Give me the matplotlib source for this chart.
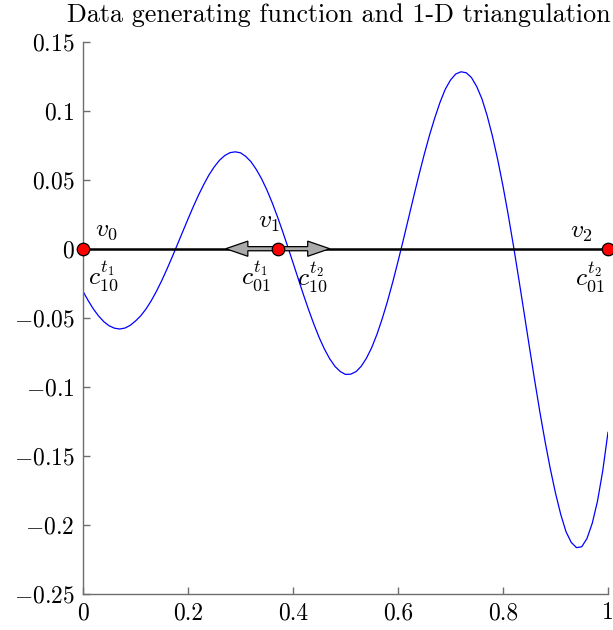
import matplotlib
matplotlib.use("Agg")
import matplotlib.pyplot as plt
from matplotlib.patches import FancyArrow

plt.rcParams["mathtext.fontset"] = "cm"
plt.rcParams["font.family"] = "serif"
plt.rcParams["font.serif"] = ["cmr10"]
plt.rcParams["axes.formatter.use_mathtext"] = True

# Sampled data generating function on [0, 1], step 0.01
x_vals = [i / 100 for i in range(101)]
f_vals = [
    -0.0309, -0.0377, -0.0438, -0.0489, -0.0530, -0.0559, -0.0576, -0.0582, -0.0575, -0.0555,  # 0.00-0.09
    -0.0524, -0.0486, -0.0437, -0.0377, -0.0308, -0.0231, -0.0147, -0.0059, 0.0032, 0.0124,    # 0.10-0.19
    0.0215, 0.0304, 0.0388, 0.0465, 0.0535, 0.0593, 0.0641, 0.0675, 0.0696, 0.0702,           # 0.20-0.29
    0.0695, 0.0669, 0.0630, 0.0575, 0.0508, 0.0428, 0.0337, 0.0236, 0.0128, 0.0015,           # 0.30-0.39
    -0.0101, -0.0218, -0.0334, -0.0445, -0.0549, -0.0645, -0.0728, -0.0798, -0.0853, -0.0890,  # 0.40-0.49
    -0.0911, -0.0909, -0.0891, -0.0852, -0.0793, -0.0716, -0.0620, -0.0507, -0.0381, -0.0242,  # 0.50-0.59
    -0.0093, 0.0061, 0.0220, 0.0379, 0.0535, 0.0683, 0.0822, 0.0947, 0.1060, 0.1155,          # 0.60-0.69
    0.1222, 0.1266, 0.1282, 0.1275, 0.1240, 0.1175, 0.1085, 0.0962, 0.0815, 0.0645,           # 0.70-0.79
    0.0454, 0.0245, 0.0020, -0.0216, -0.0459, -0.0704, -0.0945, -0.1177, -0.1393, -0.1592,     # 0.80-0.89
    -0.1770, -0.1925, -0.2050, -0.2128, -0.2166, -0.2160, -0.2100, -0.1990, -0.1830, -0.1610,  # 0.90-0.99
    -0.1331,                                                                                     # 1.00
]

# 1-D triangulation: vertices and their labels
vert_x = [0.0, 0.371, 1.0]
vert_y = [0.0, 0.0, 0.0]
vert_labels = [r"$v_0$", r"$v_1$", r"$v_2$"]
vert_label_pos = [(0.045, 0.0135), (0.355, 0.0189), (0.950, 0.0123)]

coef_labels = [r"$c_{10}^{t_1}$", r"$c_{01}^{t_1}$", r"$c_{10}^{t_2}$", r"$c_{01}^{t_2}$"]
coef_label_pos = [(0.039, -0.0198), (0.329, -0.0198), (0.4375, -0.0203), (0.9657, -0.0203)]

# direction arrows leaving the interior vertex
arrow_dx = [-0.099, 0.099]

x_ticks = [0, 0.2, 0.4, 0.6, 0.8, 1]
x_tick_labels = ["0", "0.2", "0.4", "0.6", "0.8", "1"]
y_ticks = [-0.25, -0.2, -0.15, -0.1, -0.05, 0, 0.05, 0.1, 0.15]
y_tick_labels = [r"$-0.25$", r"$-0.2$", r"$-0.15$", r"$-0.1$", r"$-0.05$",
                 r"$0$", r"$0.05$", r"$0.1$", r"$0.15$"]

fig = plt.figure(figsize=(6.13, 6.30), dpi=100)
ax = fig.add_axes([0.1354, 0.0576, 0.8564, 0.8762])

ax.plot(x_vals, f_vals, color="blue", lw=0.9, zorder=2)
ax.plot([vert_x[0], vert_x[-1]], [0, 0], color="black", lw=1.8, zorder=3)

for dx in arrow_dx:
    ax.add_patch(FancyArrow(vert_x[1], 0, dx, 0, width=0.0030, head_width=0.0110,
                            head_length=0.042, length_includes_head=True,
                            facecolor="#aaaaaa", edgecolor="black", lw=0.9, zorder=4))

ax.plot(vert_x, vert_y, "o", ms=9, mfc="red", mec="black", mew=0.9,
        clip_on=False, zorder=5)

for lab, (px, py) in zip(vert_labels, vert_label_pos):
    ax.text(px, py, lab, fontsize=18.5, ha="center", va="center", zorder=6)
for lab, (px, py) in zip(coef_labels, coef_label_pos):
    ax.text(px, py, lab, fontsize=18.5, ha="center", va="center", zorder=6)

ax.set_xlim(0, 1)
ax.set_ylim(-0.25, 0.15)
ax.set_xticks(x_ticks)
ax.set_xticklabels(x_tick_labels)
ax.set_yticks(y_ticks)
ax.set_yticklabels(y_tick_labels)

for side in ("top", "right"):
    ax.spines[side].set_visible(False)
for side in ("left", "bottom"):
    ax.spines[side].set_color("#6e6e6e")
    ax.spines[side].set_linewidth(1.0)
ax.tick_params(direction="in", length=5, width=1.0, color="#6e6e6e",
               labelsize=17, pad=6)

ax.text(0.4876, 1.0, "Data generating function and 1-D triangulation",
        transform=ax.transAxes, fontsize=18.8, ha="center", va="baseline")
ax.title.set_visible(False)
fig.canvas.draw()
t = ax.texts[-1]
t.set_position((0.4876, 1.0 + 20.0 / (0.8762 * 630)))

fig.savefig("out.png", dpi=100)
